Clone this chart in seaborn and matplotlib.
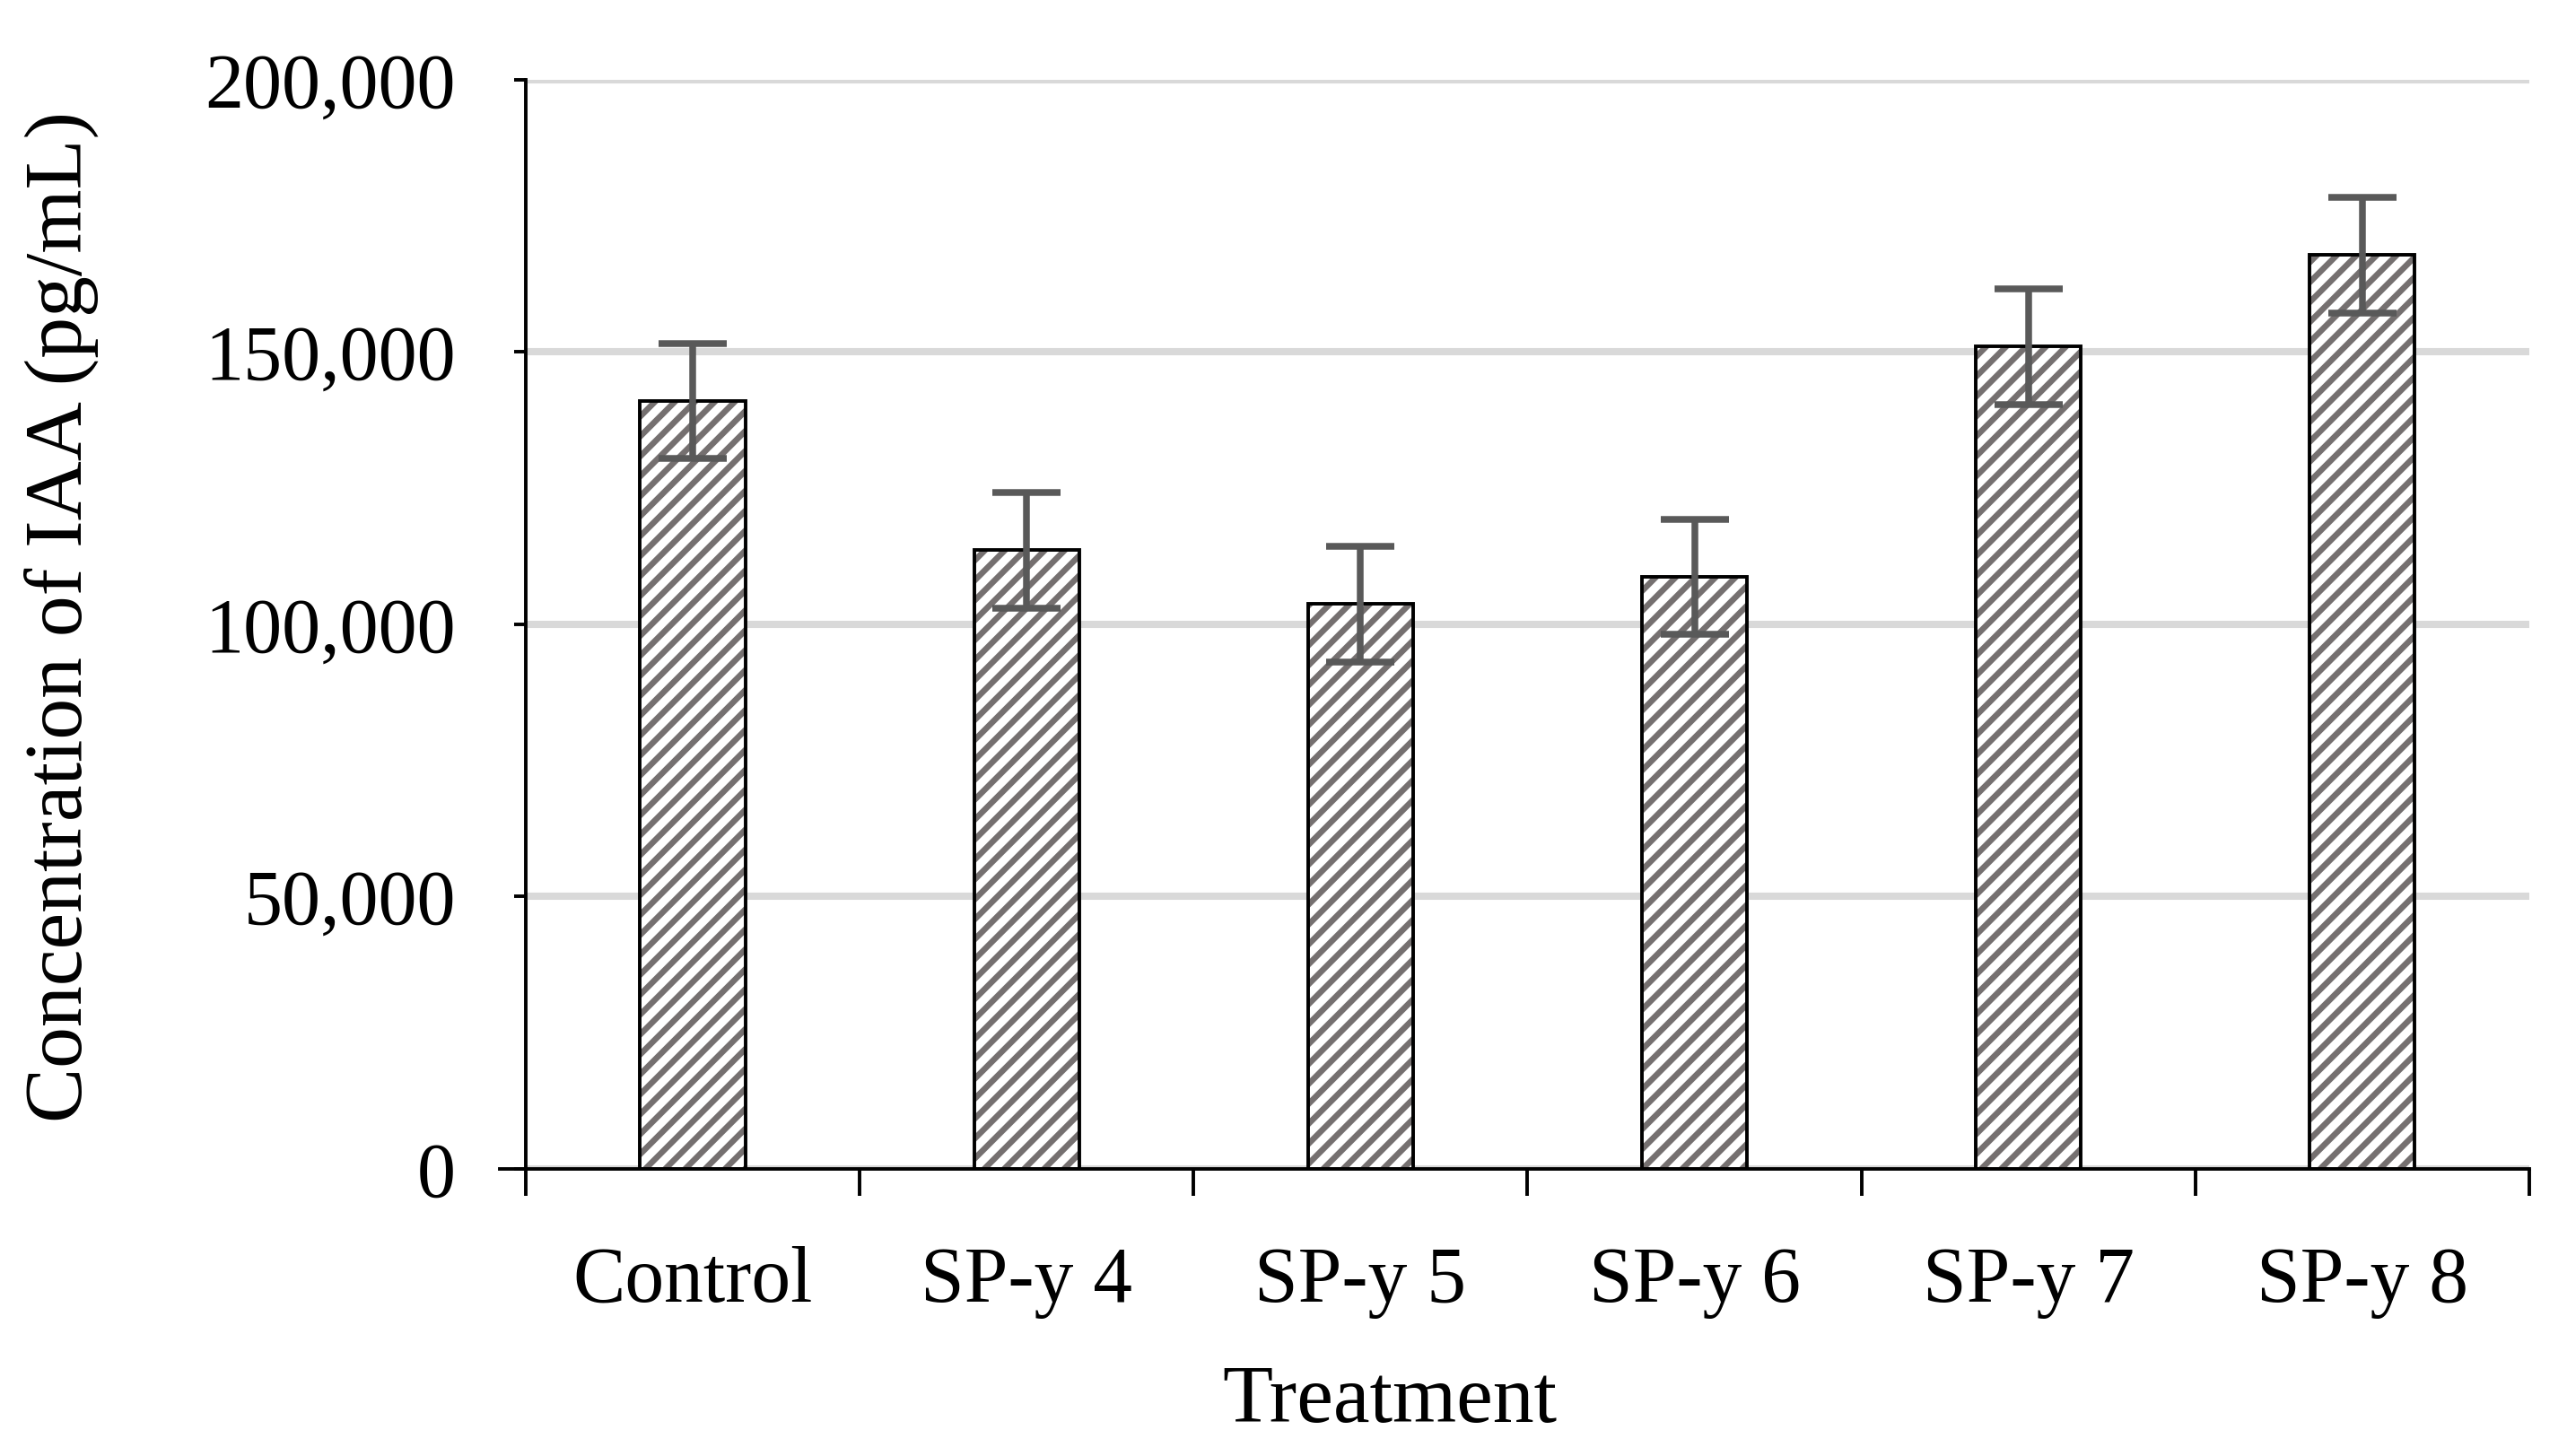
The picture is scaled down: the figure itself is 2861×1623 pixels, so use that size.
import pandas as pd
import seaborn as sns
import matplotlib.pyplot as plt
from matplotlib.ticker import FuncFormatter, FixedLocator

# values
treatments = ['Control', 'SP-y 4', 'SP-y 5', 'SP-y 6', 'SP-y 7', 'SP-y 8']
iaa_mean = [141000, 113600, 103700, 108700, 151000, 167800]
iaa_err = [10600, 10600, 10600, 10600, 10600, 10600]
y_ticks = [0, 50000, 100000, 150000, 200000]

df = pd.DataFrame({'treatment': treatments, 'iaa': iaa_mean})

sns.set_style('white')
plt.rcParams['font.family'] = ['Liberation Serif', 'DejaVu Serif']
plt.rcParams['hatch.linewidth'] = 2.4
plt.rcParams['hatch.color'] = '#757070'
plt.rcParams['text.color'] = 'black'
plt.rcParams['axes.labelcolor'] = 'black'

fig = plt.figure(figsize=(14.305, 8.115), dpi=200)
ax = fig.add_axes([0.2048, 0.1972, 0.7805, 0.748])

# hatched fill first, outline drawn on top
sns.barplot(data=df, x='treatment', y='iaa', order=treatments, ax=ax,
            color='white', edgecolor='#757070', linewidth=0, width=0.315,
            hatch='///', errorbar=None, zorder=2)
sns.barplot(data=df, x='treatment', y='iaa', order=treatments, ax=ax,
            fill=False, edgecolor='black', linewidth=1.4, width=0.315,
            errorbar=None, zorder=3)

ax.errorbar(range(len(treatments)), iaa_mean, yerr=iaa_err, fmt='none',
            ecolor='#595959', elinewidth=2.7, capsize=13.7, capthick=2.7,
            zorder=4)

ax.set_ylim(0, 200000)
ax.set_xlim(-0.5, len(treatments) - 0.5)
ax.set_yticks(y_ticks)
ax.yaxis.set_major_formatter(FuncFormatter(lambda v, p: f'{int(v):,}'))
ax.xaxis.set_minor_locator(FixedLocator([i - 0.5 for i in range(len(treatments) + 1)]))

ax.yaxis.grid(True, color='#D9D9D9', linewidth=2.9)
ax.set_axisbelow(True)

for s in ['top', 'right']:
    ax.spines[s].set_visible(False)
for s in ['left', 'bottom']:
    ax.spines[s].set_color('black')
    ax.spines[s].set_linewidth(1.4)
ax.spines['bottom'].set_bounds(-0.578, len(treatments) - 0.5)

ax.tick_params(axis='x', which='major', length=0, pad=31, labelsize=31.5,
               colors='black', bottom=True)
ax.tick_params(axis='x', which='minor', length=10.8, width=1.4,
               direction='out', color='black', bottom=True)
ax.tick_params(axis='y', length=4.7, width=1.4, direction='out', pad=23.4,
               labelsize=31, colors='black', left=True)

ax.set_xlabel('Treatment', fontsize=33, color='black')
ax.set_ylabel('Concentration of IAA (pg/mL)', fontsize=33, color='black')
ax.xaxis.set_label_coords(0.431, -0.18)
ax.yaxis.set_label_coords(-0.213, 0.507)

fig.savefig('out.png', dpi=200)
plt.close(fig)
